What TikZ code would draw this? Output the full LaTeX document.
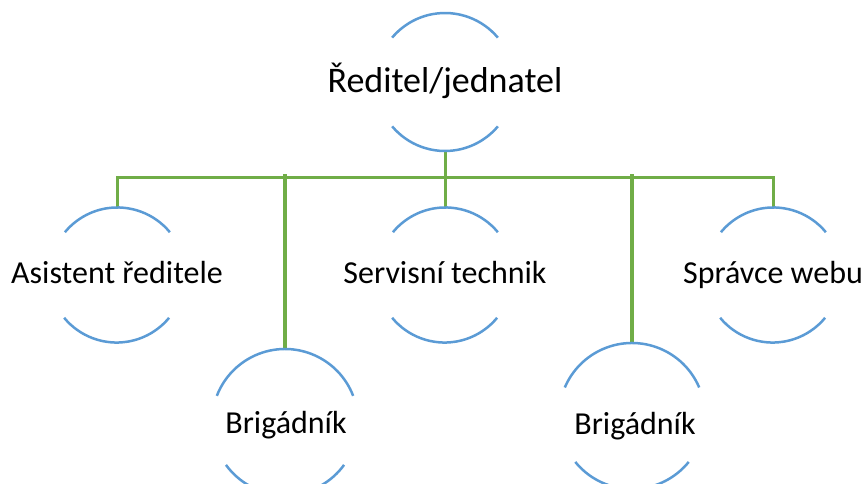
\documentclass[tikz,border=0pt]{standalone}
\usepackage{fontspec}
\setmainfont{Carlito}
\definecolor{ringblue}{HTML}{5B9BD5}
\definecolor{linkgreen}{HTML}{70AD47}
\tikzset{
  ring/.style={circle, draw=none, inner sep=0pt, outer sep=0pt, minimum size=#1},
  arcline/.style={draw=ringblue, line width=2.5pt},
  link/.style={draw=linkgreen, line width=3pt},
  linkthick/.style={draw=linkgreen, line width=4pt},
  toplabel/.style={anchor=base, inner sep=0pt, font=\fontsize{36}{40}\selectfont},
  sublabel/.style={anchor=base, inner sep=0pt, font=\fontsize{32}{36}\selectfont}
}
\begin{document}
\begin{tikzpicture}[x=1pt, y=1pt]
\useasboundingbox (0,0) rectangle (864,483);

% circle frames of the boxes
\node[ring=138pt] (dir)    at (445,401) {};
\node[ring=136pt] (asist)  at (117,208) {};
\node[ring=136pt] (serv)   at (445,208) {};
\node[ring=136pt] (sprav)  at (773,208) {};
\node[ring=146pt] (brigA)  at (285,61)  {};
\node[ring=146pt] (brigB)  at (632,67)  {};

% connectors
\coordinate (bus) at (445,306);
\coordinate (bustop) at (445,309);
\draw[link] (dir.south) -- (serv.north);
\draw[link] (asist.north) |- (bus) -| (sprav.north);
\draw[linkthick] (brigA.north) -- (brigA.north |- bustop);
\draw[linkthick] (brigB.north) -- (brigB.north |- bustop);

% upper and lower arcs of every circle
\draw[arcline] (dir.40) arc[start angle=40, end angle=140, radius=69pt];
\draw[arcline] (dir.220) arc[start angle=220, end angle=320, radius=69pt];
\foreach \n in {asist, serv, sprav}{
  \draw[arcline] (\n.39.5) arc[start angle=39.5, end angle=140.5, radius=68pt];
  \draw[arcline] (\n.219.5) arc[start angle=219.5, end angle=320.5, radius=68pt];
}
\draw[arcline] (brigA.21) arc[start angle=21, end angle=159, radius=73pt];
\draw[arcline] (brigA.216) arc[start angle=216, end angle=324, radius=73pt];
\draw[arcline] (brigB.23) arc[start angle=23, end angle=157, radius=73pt];
\draw[arcline] (brigB.219) arc[start angle=219, end angle=321, radius=73pt];

% labels
\node[toplabel] (tdir)   at (445,390) {Ředitel/jednatel};
\node[sublabel] (tasist) at (117,200) {Asistent ředitele};
\node[sublabel] (tserv)  at (445,200) {Servisní technik};
\node[sublabel] (tsprav) at (773,200) {Správce webu};
\node[sublabel] (tbrigA) at (286,50)  {Brigádník};
\node[sublabel] (tbrigB) at (635,49)  {Brigádník};
\end{tikzpicture}
\end{document}
